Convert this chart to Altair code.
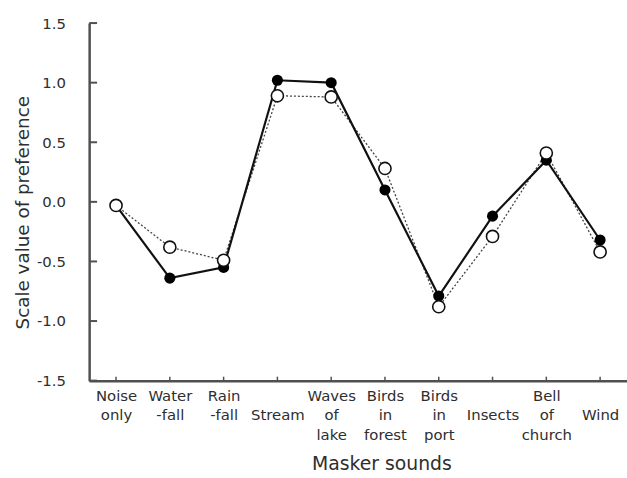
import altair as alt
import pandas as pd

sounds = ["Noise\nonly", "Water\n-fall", "Rain\n-fall", "\nStream", "Waves\nof\nlake",
          "Birds\nin\nforest", "Birds\nin\nport", "\nInsects", "Bell\nof\nchurch", "\nWind"]
filled_vals = [-0.03, -0.64, -0.55, 1.02, 1.00, 0.10, -0.79, -0.12, 0.35, -0.32]
open_vals = [-0.03, -0.38, -0.49, 0.89, 0.88, 0.28, -0.88, -0.29, 0.41, -0.42]
y_ticks = [-1.5, -1.0, -0.5, 0.0, 0.5, 1.0, 1.5]

FONT = "DejaVu Sans"
TXT = "#2e2e2e"
AX = "#505050"

df_f = pd.DataFrame({"sound": sounds, "value": filled_vals})
df_o = pd.DataFrame({"sound": sounds, "value": open_vals})
df_yt = pd.DataFrame({"value": y_ticks})
df_xt = pd.DataFrame({"sound": sounds})

x_enc = alt.X("sound:N", sort=sounds,
              scale=alt.Scale(type="point", padding=0.5),
              axis=alt.Axis(title="Masker sounds", labelAngle=0,
                            labelExpr="split(datum.label, '\\n')",
                            labelFont=FONT, labelFontSize=15, labelColor=TXT,
                            labelLineHeight=19.5, labelPadding=8, labelBaseline="top",
                            labelOverlap=False, labelBound=False,
                            tickSize=0, domainColor=AX, domainWidth=2.5,
                            titleFont=FONT, titleFontSize=19, titleFontWeight="normal",
                            titleColor=TXT, titleX=295, titleY=84, titleBaseline="middle",
                            titleAlign="center"))
y_enc = alt.Y("value:Q", scale=alt.Scale(domain=[-1.5, 1.5], nice=False, zero=False),
              axis=alt.Axis(title="Scale value of preference", values=y_ticks,
                            labelExpr="(datum.value < 0 ? '-' : '') + format(abs(datum.value), '.1f')",
                            labelFont=FONT, labelFontSize=15, labelColor=TXT,
                            labelPadding=24, tickSize=0, grid=False,
                            domainColor=AX, domainWidth=2.5,
                            titleFont=FONT, titleFontSize=18.5, titleFontWeight="normal",
                            titleColor=TXT, titleX=-67, titleY=191, titleBaseline="middle",
                            titleAlign="center"))

dotted = alt.Chart(df_o).mark_line(color="#444", strokeWidth=1.3, strokeDash=[2, 2]).encode(x=x_enc, y=y_enc)
solid = alt.Chart(df_f).mark_line(color="#111", strokeWidth=2.2).encode(x=x_enc, y=y_enc)
fpts = alt.Chart(df_f).mark_point(shape="circle", filled=True, color="#000", opacity=1, size=125).encode(x=x_enc, y=y_enc)
opts = alt.Chart(df_o).mark_point(shape="circle", filled=True, fill="white", stroke="#111",
                                  strokeWidth=1.6, opacity=1, size=150).encode(x=x_enc, y=y_enc)

yt = alt.Chart(df_yt).mark_rule(color=AX, strokeWidth=2).encode(
    y=y_enc, x=alt.value(0), x2=alt.value(8))
xt = alt.Chart(df_xt).mark_rule(color=AX, strokeWidth=1.5).encode(
    x=x_enc, y=alt.value(361), y2=alt.value(357))

chart = alt.layer(dotted, solid, fpts, opts, yt, xt).properties(
    width=543, height=361,
    autosize=alt.AutoSizeParams(type="none"),
    padding={"left": 90, "top": 21, "right": 0, "bottom": 96},
    background="white",
).configure_view(stroke=None)

chart.save("out.html", embed_options={"renderer": "svg", "actions": False})
